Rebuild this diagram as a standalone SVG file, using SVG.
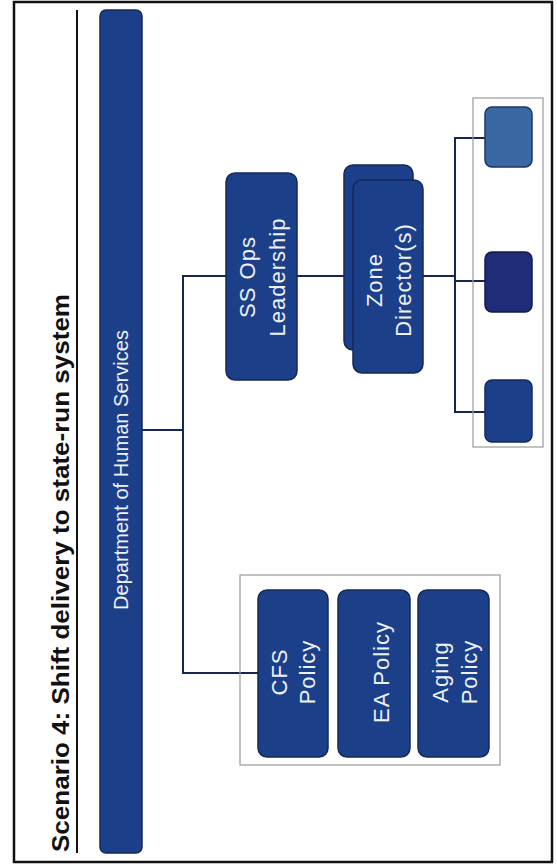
<svg xmlns="http://www.w3.org/2000/svg" width="557" height="867" viewBox="0 0 557 867">
<style>
.box{fill:#1c3f89;stroke:#14285a;stroke-width:1.5}
.grp{fill:none;stroke:#9a9a9a;stroke-width:1.2}
.lbl{font-family:"Liberation Sans",Arial,sans-serif;font-size:22px;fill:#eef1f8;text-anchor:middle;letter-spacing:1px}
.dl{font-family:"Liberation Sans",Arial,sans-serif;font-size:20px;fill:#eef1f8;text-anchor:middle}
.con{fill:none;stroke:#16284f;stroke-width:2}
</style>
<rect x="14" y="2" width="538" height="860" fill="#ffffff" stroke="#111" stroke-width="2.5"/>
<g id="title">
<line x1="77" y1="10" x2="77" y2="853" stroke="#111" stroke-width="2"/>
<text transform="translate(69,852) rotate(-90)" x="0" y="0" font-family="'Liberation Sans',Arial,sans-serif" font-size="24" font-weight="bold" fill="#111" textLength="558" lengthAdjust="spacingAndGlyphs">Scenario 4: Shift delivery to state-run system</text>
</g>
<g id="connectors">
<polyline class="con" points="142,430 183,430"/>
<polyline class="con" points="226,276 183,276 183,673 258,673"/>
<polyline class="con" points="297,276 344,276"/>
<polyline class="con" points="423,276 455,276"/>
<polyline class="con" points="485,138 455,138 455,412 485,412"/>
<polyline class="con" points="455,281 485,281"/>
</g>
<g id="dhs">
<rect class="box" x="100" y="10" width="42" height="843" rx="6"/>
<text class="dl" transform="translate(121,470) rotate(-90)" x="0" y="7" textLength="280" lengthAdjust="spacing">Department of Human Services</text>
</g>
<g id="ssops">
<rect class="box" x="226" y="173" width="71" height="207" rx="9"/>
<text class="lbl" transform="translate(262,277) rotate(-90)"><tspan x="0" y="-7">SS Ops</tspan><tspan x="0" y="23">Leadership</tspan></text>
</g>
<g id="zone">
<rect class="box" x="344" y="165" width="69" height="185" rx="9"/>
<rect class="box" x="353" y="180" width="70" height="193" rx="9"/>
<text class="lbl" transform="translate(388,280) rotate(-90)"><tspan x="0" y="-6">Zone</tspan><tspan x="0" y="23">Director(s)</tspan></text>
</g>
<g id="zone-units">
<rect class="grp" x="473" y="98" width="70" height="349"/>
<rect x="485" y="107" width="47" height="60" rx="7" fill="#3a68a2" stroke="#1c3566" stroke-width="1.5"/>
<rect x="485" y="252" width="47" height="60" rx="7" fill="#1f2c78" stroke="#121c4a" stroke-width="1.5"/>
<rect x="485" y="380" width="47" height="62" rx="7" fill="#1c3f89" stroke="#14285a" stroke-width="1.5"/>
</g>
<g id="policy">
<rect class="grp" x="240" y="575" width="260" height="190"/>
<g id="cfs">
<rect class="box" x="258" y="590" width="70" height="167" rx="9"/>
<text class="lbl" transform="translate(293,672) rotate(-90)"><tspan x="0" y="-6">CFS</tspan><tspan x="0" y="22">Policy</tspan></text>
</g>
<g id="ea">
<rect class="box" x="338" y="590" width="72" height="167" rx="9"/>
<text class="lbl" transform="translate(374,672) rotate(-90)"><tspan x="0" y="15">EA Policy</tspan></text>
</g>
<g id="aging">
<rect class="box" x="418" y="590" width="71" height="167" rx="9"/>
<text class="lbl" transform="translate(453,672) rotate(-90)"><tspan x="0" y="-5">Aging</tspan><tspan x="0" y="24">Policy</tspan></text>
</g>
</g>
</svg>
